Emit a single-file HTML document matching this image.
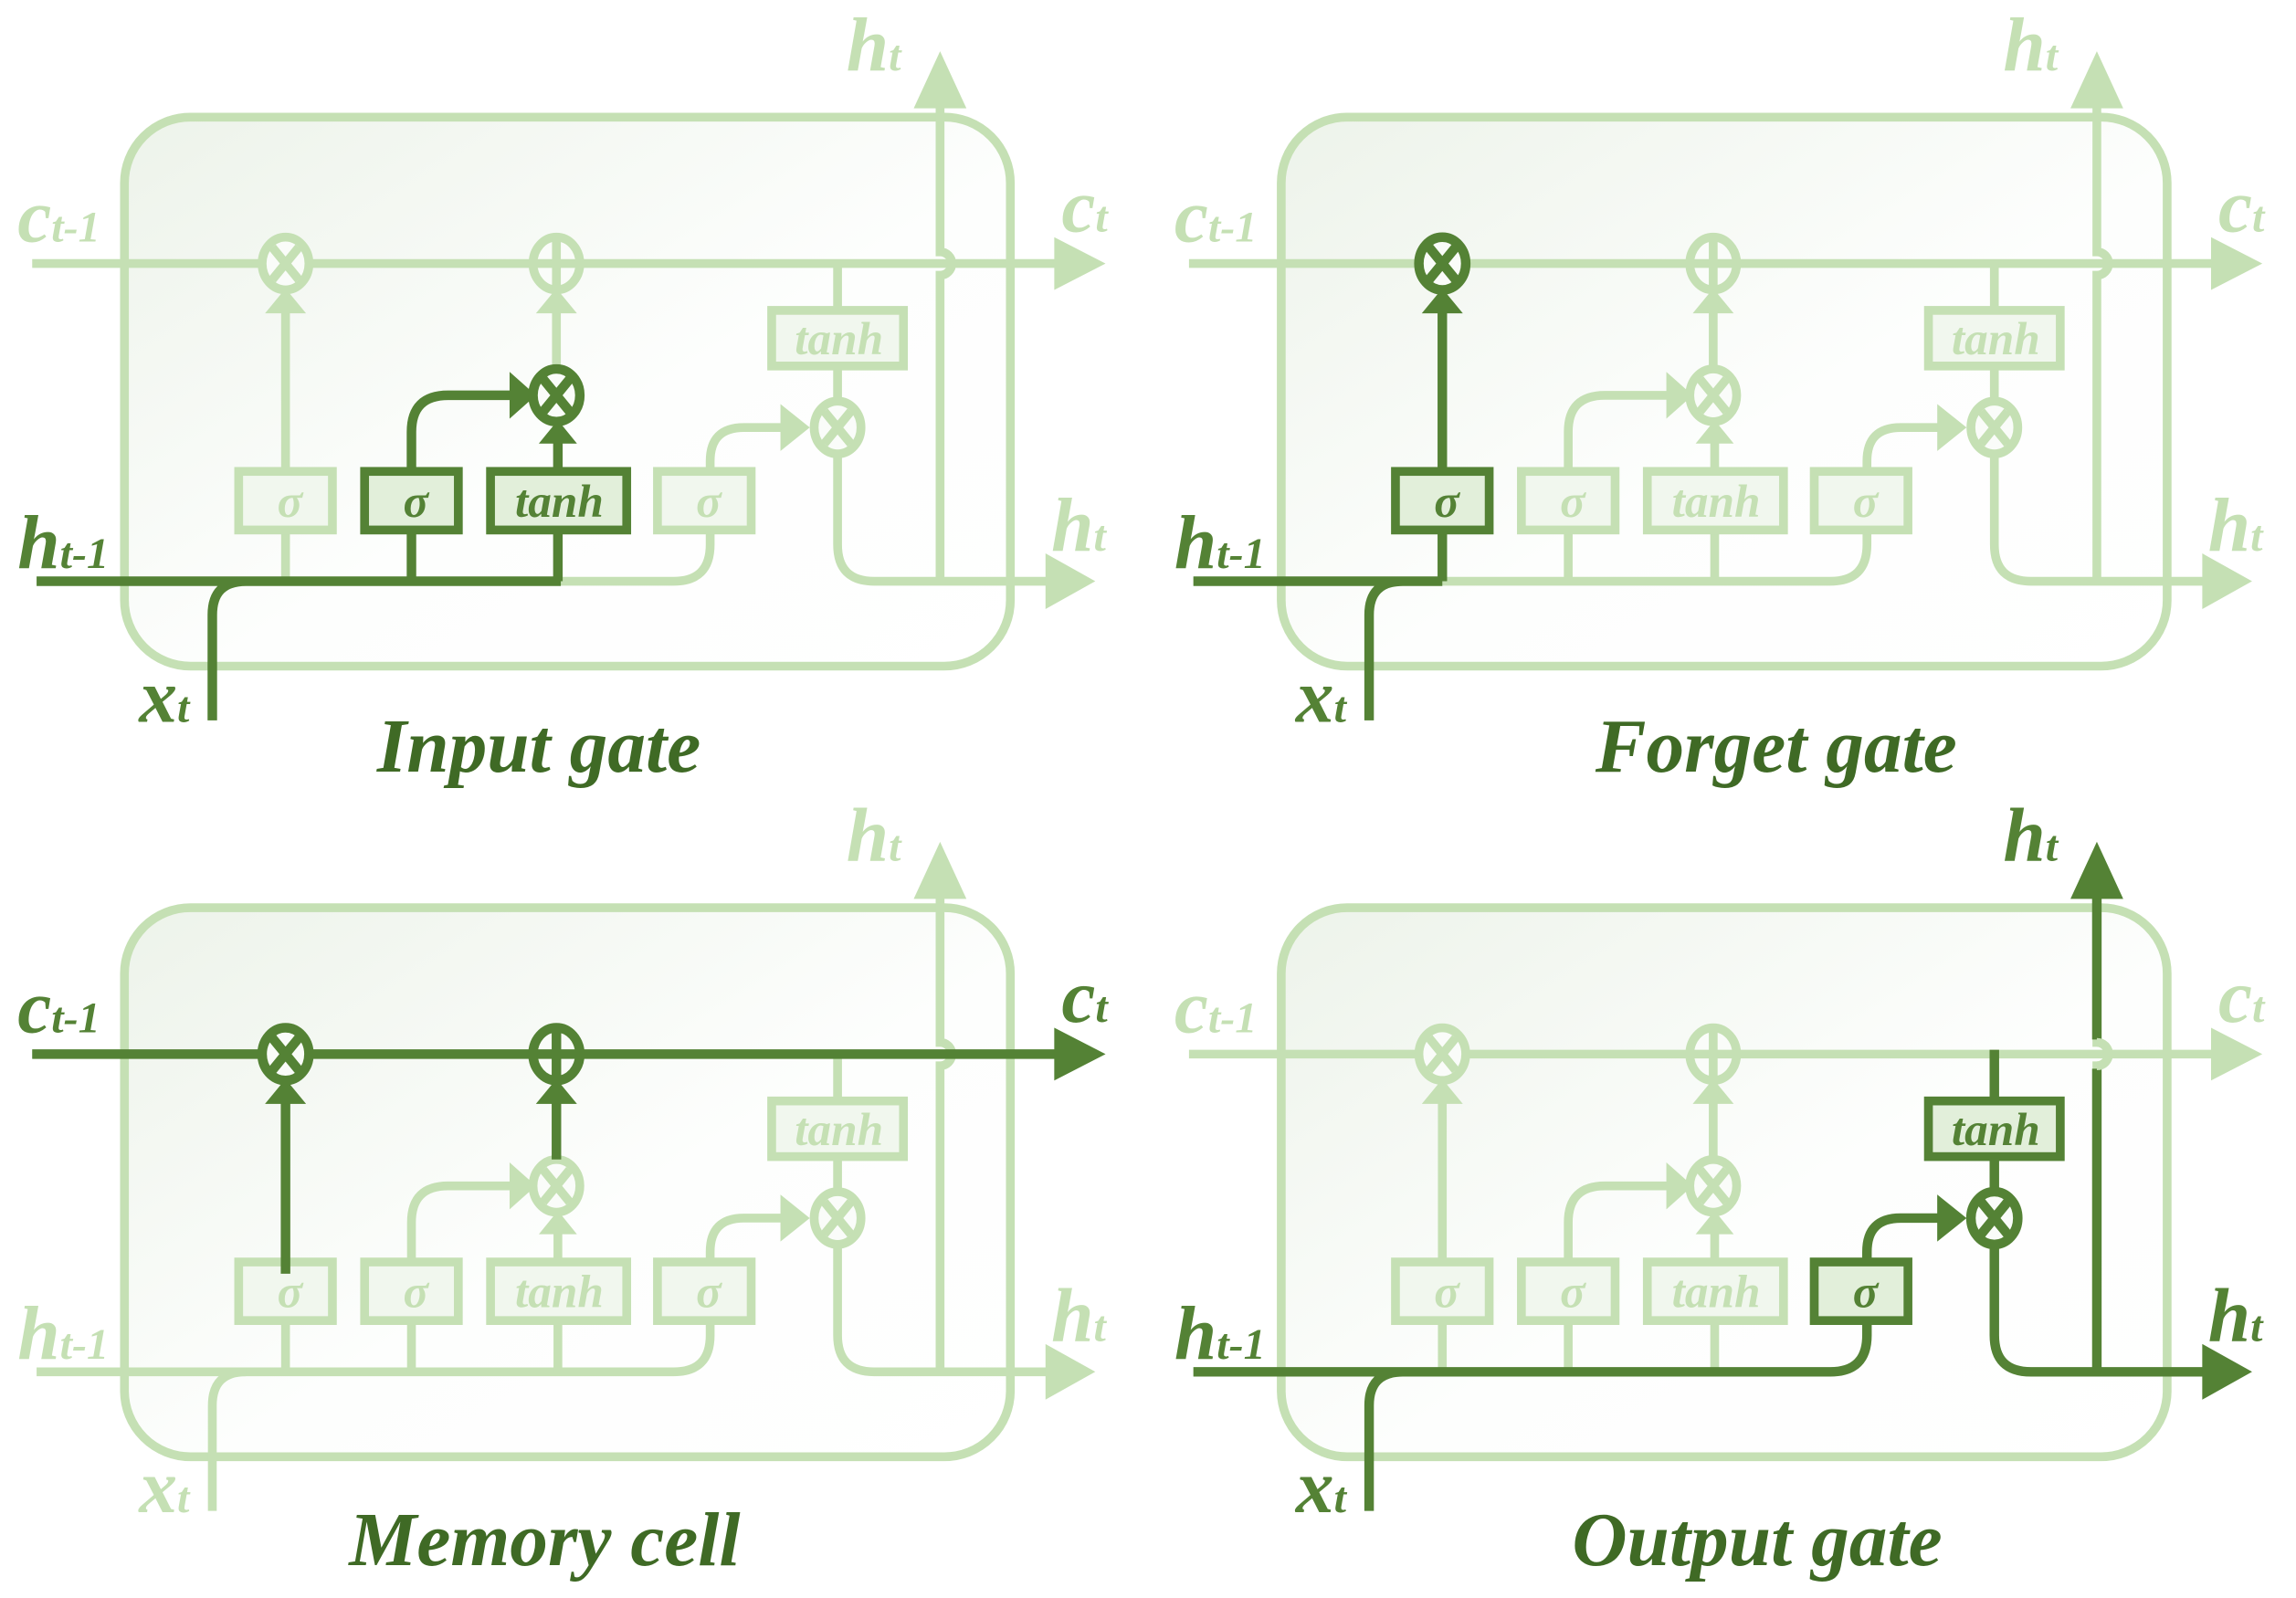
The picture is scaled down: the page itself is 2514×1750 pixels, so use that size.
<!DOCTYPE html>
<html><head><meta charset="utf-8"><style>
html,body{margin:0;padding:0;background:#fff;}
svg{display:block;}
.L{stroke:#c5e0b4;fill:none;stroke-width:6;}
.D{stroke:#548235;fill:none;stroke-width:6.5;}
.aL{fill:#c5e0b4;stroke:none;}
.aD{fill:#548235;stroke:none;}
.bL{stroke:#c5e0b4;fill:#f1f7ee;stroke-width:6;}
.bD{stroke:#548235;fill:#e2efda;stroke-width:6;}
.cL{stroke:#c5e0b4;fill:#fafcf9;stroke-width:6;}
.cD{stroke:#548235;fill:#fafcf9;stroke-width:6.5;}
text{font-family:"Liberation Serif",serif;font-style:italic;font-weight:bold;}
.tL{fill:#c5e0b4;} .tD{fill:#548235;}
.lab{font-size:52px;} .sub{font-size:30px;}
.bx{font-size:32px;text-anchor:middle;font-family:"Liberation Serif",serif;font-style:italic;font-weight:bold;}
.ttl{font-size:52px;text-anchor:middle;fill:#3f6a25;}
</style></head><body>
<svg width="2514" height="1750" viewBox="0 0 1568 1091.5" preserveAspectRatio="none" xmlns="http://www.w3.org/2000/svg">
<defs>
<linearGradient id="g" x1="0" y1="0" x2="1" y2="1">
<stop offset="0" stop-color="#edf3ea"/><stop offset="0.55" stop-color="#fdfefd"/><stop offset="1" stop-color="#ffffff"/>
</linearGradient>
<g id="ot"><ellipse cx="0" cy="0" rx="16" ry="18"/><path d="M-9 -11 L9 11 M9 -11 L-9 11"/></g>
<g id="op"><ellipse cx="0" cy="0" rx="16" ry="18"/><path d="M0 -18 V18 M-16 0 H16"/></g>
<g id="base">
<rect class="L" x="85" y="80" width="605" height="375" rx="45" style="fill:url(#g)"/>
<path class="L" d="M642 397 V188 A8 8 0 0 0 642 172 V70"/>
<path class="L" d="M22 180 H722"/>
<polygon class="aL" points="720,162 755,180 720,198"/>
<polygon class="aL" points="624,74 642,35 660,74"/>
<path class="L" d="M195 322 V210 M380 252 V210"/>
<polygon class="aL" points="181,214 195,197 209,214"/>
<polygon class="aL" points="366,214 380,197 394,214"/>
<path class="L" d="M281 322 V295 Q281 270 306 270 H352"/>
<polygon class="aL" points="348,254 366,270 348,286"/>
<path class="L" d="M381 322 V296"/>
<polygon class="aL" points="368,303 381,287 394,303"/>
<path class="L" d="M25 397 H460 Q485 397 485 372 V315 Q485 292 508 292 H538"/>
<polygon class="aL" points="533,276 553,292 533,308"/>
<path class="L" d="M195 362 V397 M281 362 V397 M381 362 V397"/>
<path class="L" d="M145 492 V420 Q145 397 168 397"/>
<path class="L" d="M572 180 V212 M572 250 V275"/>
<path class="L" d="M572 309 V372 Q572 397 597 397 H716"/>
<polygon class="aL" points="714,378 748,397 714,416"/>
<rect class="bL" x="163" y="322" width="64" height="40"/>
<rect class="bL" x="249" y="322" width="64" height="40"/>
<rect class="bL" x="335" y="322" width="93" height="40"/>
<rect class="bL" x="449" y="322" width="64" height="40"/>
<rect class="bL" x="527" y="212" width="90" height="38"/>
<use href="#ot" x="195" y="180" class="cL"/>
<use href="#op" x="380" y="180" class="cL"/>
<use href="#ot" x="380" y="270" class="cL"/>
<use href="#ot" x="572" y="292" class="cL"/>
</g>
</defs>

<g>
<use href="#base"/>
<path class="D" d="M25 397 H383 M281 362 V397 M381 362 V397 M145 492 V420 Q145 397 168 397"/>
<path class="D" d="M281 322 V295 Q281 270 306 270 H352 M381 322 V296"/>
<polygon class="aD" points="348,254 366,270 348,286"/>
<polygon class="aD" points="368,303 381,287 394,303"/>
<rect class="bD" x="249" y="322" width="64" height="40"/>
<rect class="bD" x="335" y="322" width="93" height="40"/>
<use href="#ot" x="380" y="270" class="cD"/>
<text x="12" y="165" class="lab tL">c<tspan class="sub">t-1</tspan></text>
<text x="725" y="158" class="lab tL">c<tspan class="sub">t</tspan></text>
<text x="578" y="48" class="lab tL">h<tspan class="sub">t</tspan></text>
<text x="718" y="376" class="lab tL">h<tspan class="sub">t</tspan></text>
<text x="12" y="388" class="lab tD">h<tspan class="sub">t-1</tspan></text>
<text x="95" y="493" class="lab tD">x<tspan class="sub">t</tspan></text>
<text x="198" y="353" class="bx tL">σ</text><text x="284" y="353" class="bx tD">σ</text>
<text x="382" y="353" class="bx tD">tanh</text><text x="484" y="353" class="bx tL">σ</text>
<text x="573" y="242" class="bx tL">tanh</text>
<text x="368" y="527" class="ttl">Input gate</text>
</g>

<g transform="translate(790,0)">
<use href="#base"/>
<path class="D" d="M25 397 H195 M195 362 V397 M195 322 V210 M145 492 V420 Q145 397 168 397"/>
<polygon class="aD" points="181,214 195,197 209,214"/>
<rect class="bD" x="163" y="322" width="64" height="40"/>
<use href="#ot" x="195" y="180" class="cD"/>
<text x="12" y="165" class="lab tL">c<tspan class="sub">t-1</tspan></text>
<text x="725" y="158" class="lab tL">c<tspan class="sub">t</tspan></text>
<text x="578" y="48" class="lab tL">h<tspan class="sub">t</tspan></text>
<text x="718" y="376" class="lab tL">h<tspan class="sub">t</tspan></text>
<text x="12" y="388" class="lab tD">h<tspan class="sub">t-1</tspan></text>
<text x="95" y="493" class="lab tD">x<tspan class="sub">t</tspan></text>
<text x="198" y="353" class="bx tD">σ</text><text x="284" y="353" class="bx tL">σ</text>
<text x="382" y="353" class="bx tL">tanh</text><text x="484" y="353" class="bx tL">σ</text>
<text x="573" y="242" class="bx tL">tanh</text>
<text x="423" y="527" class="ttl">Forget gate</text>
</g>

<g transform="translate(0,540)">
<use href="#base"/>
<path class="D" d="M22 180 H722 M195 330 V210 M380 252 V210"/>
<polygon class="aD" points="720,162 755,180 720,198"/>
<polygon class="aD" points="181,214 195,197 209,214"/>
<polygon class="aD" points="366,214 380,197 394,214"/>
<use href="#ot" x="195" y="180" class="cD"/>
<use href="#op" x="380" y="180" class="cD"/>
<text x="12" y="165" class="lab tD">c<tspan class="sub">t-1</tspan></text>
<text x="725" y="158" class="lab tD">c<tspan class="sub">t</tspan></text>
<text x="578" y="48" class="lab tL">h<tspan class="sub">t</tspan></text>
<text x="718" y="376" class="lab tL">h<tspan class="sub">t</tspan></text>
<text x="12" y="388" class="lab tL">h<tspan class="sub">t-1</tspan></text>
<text x="95" y="493" class="lab tL">x<tspan class="sub">t</tspan></text>
<text x="198" y="353" class="bx tL">σ</text><text x="284" y="353" class="bx tL">σ</text>
<text x="382" y="353" class="bx tL">tanh</text><text x="484" y="353" class="bx tL">σ</text>
<text x="573" y="242" class="bx tL">tanh</text>
<text x="372" y="529" class="ttl">Memory cell</text>
</g>

<g transform="translate(790,540)">
<use href="#base"/>
<path class="D" d="M25 397 H460 Q485 397 485 372 V362 M485 322 V315 Q485 292 508 292 H538 M145 492 V420 Q145 397 168 397"/>
<polygon class="aD" points="533,276 553,292 533,308"/>
<path class="D" d="M572 177 V212 M572 250 V275 M572 309 V372 Q572 397 597 397 H716"/>
<polygon class="aD" points="714,378 748,397 714,416"/>
<path class="D" d="M642 397 V190 M642 170 V70"/>
<path class="L" d="M642 188 A8 8 0 0 0 642 172"/>
<polygon class="aD" points="624,74 642,35 660,74"/>
<rect class="bD" x="449" y="322" width="64" height="40"/>
<rect class="bD" x="527" y="212" width="90" height="38"/>
<use href="#ot" x="572" y="292" class="cD"/>
<text x="12" y="165" class="lab tL">c<tspan class="sub">t-1</tspan></text>
<text x="725" y="158" class="lab tL">c<tspan class="sub">t</tspan></text>
<text x="578" y="48" class="lab tD">h<tspan class="sub">t</tspan></text>
<text x="718" y="376" class="lab tD">h<tspan class="sub">t</tspan></text>
<text x="12" y="388" class="lab tD">h<tspan class="sub">t-1</tspan></text>
<text x="95" y="493" class="lab tD">x<tspan class="sub">t</tspan></text>
<text x="198" y="353" class="bx tL">σ</text><text x="284" y="353" class="bx tL">σ</text>
<text x="382" y="353" class="bx tL">tanh</text><text x="484" y="353" class="bx tD">σ</text>
<text x="573" y="242" class="bx tD">tanh</text>
<text x="410" y="529" class="ttl">Output gate</text>
</g>
</svg>
</body></html>
